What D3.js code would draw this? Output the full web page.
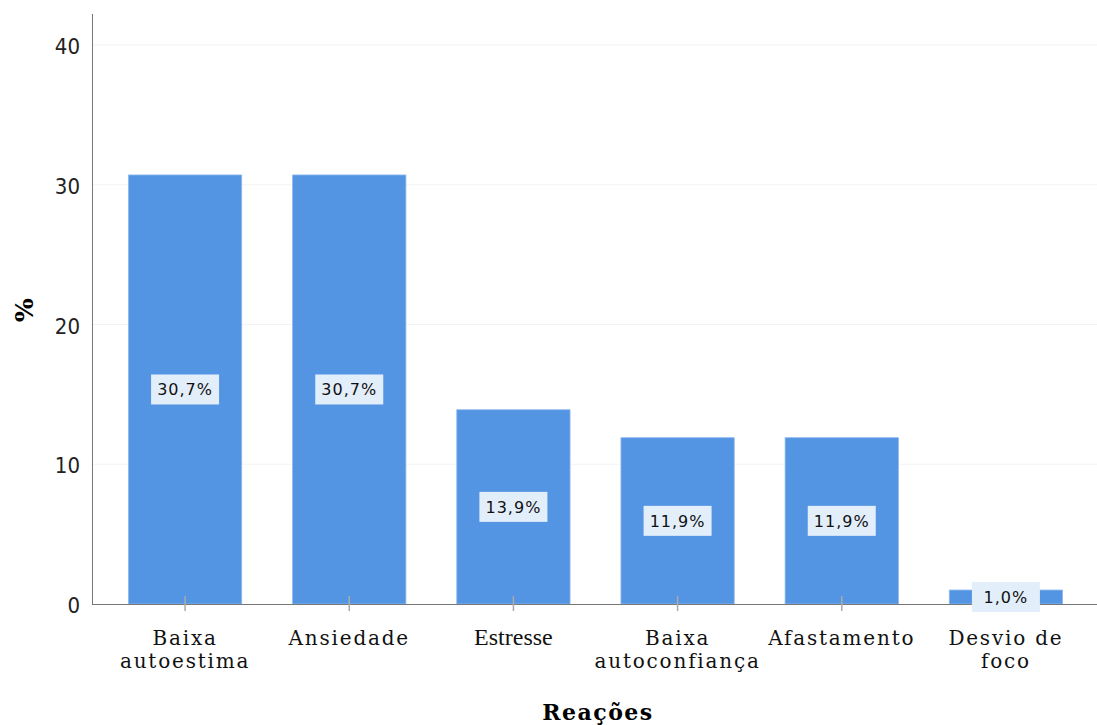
<!DOCTYPE html>
<html>
<head>
<meta charset="utf-8">
<script src="https://cdn.jsdelivr.net/npm/d3@7"></script>
<style>
  body { margin: 0; background: #fff; }
</style>
</head>
<body>
<script>
var width = 1097, height = 725;

// data
var categories = [["Baixa", "autoestima"], ["Ansiedade"], ["Estresse"], ["Baixa", "autoconfiança"], ["Afastamento"], ["Desvio de", "foco"]];
var percents = [30.7, 30.7, 13.9, 11.9, 11.9, 1.0];
var yTicks = [0, 10, 20, 30, 40];

var svg = d3.select("body")
            .append("svg")
            .attr("width", width)
            .attr("height", height);

var x = d3.scaleBand()
          .domain(d3.range(categories.length))
          .range([103, 1088])
          .paddingInner(0.31)
          .paddingOuter(0.155);

var y = d3.scaleLinear()
          .domain([0, 40])
          .range([604, 45]);

// faint gridlines
svg.append("g")
   .selectAll("line")
   .data(yTicks.slice(1))
   .enter()
   .append("line")
   .attr("x1", 93)
   .attr("x2", width)
   .attr("y1", function(d) { return y(d); })
   .attr("y2", function(d) { return y(d); })
   .attr("stroke", "#f1f3f6")
   .attr("stroke-width", 1);

// bars
svg.append("g")
   .selectAll("rect")
   .data(percents)
   .enter()
   .append("rect")
   .attr("x", function(d, i) { return x(i); })
   .attr("y", function(d) { return y(d); })
   .attr("width", x.bandwidth())
   .attr("height", function(d) { return y(0) - y(d); })
   .attr("fill", "#5394e3")
   .attr("stroke", "#8fb9ee")
   .attr("stroke-width", 0.8);

// axis lines
svg.append("line")
   .attr("x1", 92.5).attr("x2", 92.5)
   .attr("y1", 14).attr("y2", 604)
   .attr("stroke", "#777");

svg.append("line")
   .attr("x1", 92).attr("x2", width)
   .attr("y1", 604.5).attr("y2", 604.5)
   .attr("stroke", "#777");

// y tick labels
svg.append("g")
   .selectAll("text")
   .data(yTicks)
   .enter()
   .append("text")
   .attr("x", 80)
   .attr("y", function(d) { return y(d) + 9; })
   .attr("text-anchor", "end")
   .attr("font-family", "'DejaVu Sans Condensed', 'Liberation Sans', sans-serif")
   .attr("font-size", "22px")
   .attr("fill", "#222")
   .text(function(d) { return d; });

// x tick marks
svg.append("g")
   .selectAll("line")
   .data(d3.range(categories.length))
   .enter()
   .append("line")
   .attr("x1", function(i) { return x(i) + x.bandwidth() / 2; })
   .attr("x2", function(i) { return x(i) + x.bandwidth() / 2; })
   .attr("y1", 596)
   .attr("y2", 611)
   .attr("stroke", "#aaa")
   .attr("stroke-width", 1.5);

// x category labels
var xl = svg.append("g")
            .selectAll("text")
            .data(categories)
            .enter()
            .append("text")
            .attr("text-anchor", "middle")
            .attr("font-family", function(d, i) { return i == 2 ? "Liberation Serif" : "DejaVu Serif"; })
            .attr("font-size", function(d, i) { return i == 2 ? "24px" : "20px"; })
            .attr("letter-spacing", function(d, i) { return i == 2 ? "0px" : "1.8px"; })
            .attr("fill", "#111")
            .attr("transform", function(d, i) { return "translate(" + (x(i) + x.bandwidth() / 2) + ",0)"; });

xl.selectAll("tspan")
  .data(function(d) { return d; })
  .enter()
  .append("tspan")
  .attr("x", 0)
  .attr("y", function(d, j) { return 645 + j * 23; })
  .text(function(d) { return d; });

// value labels with light boxes
var vl = svg.append("g")
            .selectAll("g")
            .data(percents)
            .enter()
            .append("g")
            .attr("transform", function(d, i) {
              return "translate(" + (x(i) + x.bandwidth() / 2) + "," + ((y(0) + y(d)) / 2) + ")";
            });

vl.append("rect")
  .attr("x", -34)
  .attr("y", -15)
  .attr("width", 68)
  .attr("height", 30)
  .attr("fill", "#e3eefb");

vl.append("text")
  .attr("text-anchor", "middle")
  .attr("y", 6)
  .attr("font-family", "DejaVu Sans")
  .attr("font-size", "16px")
  .attr("letter-spacing", "1px")
  .attr("fill", "#111")
  .text(function(d) { return d.toFixed(1).replace(".", ",") + "%"; });

// axis titles
svg.append("text")
   .attr("transform", "translate(33,310) rotate(-90)")
   .attr("text-anchor", "middle")
   .attr("font-family", "DejaVu Serif")
   .attr("font-weight", "bold")
   .attr("font-size", "25px")
   .text("%");

svg.append("text")
   .attr("x", 598)
   .attr("y", 720)
   .attr("text-anchor", "middle")
   .attr("font-family", "DejaVu Serif")
   .attr("font-weight", "bold")
   .attr("font-size", "22px")
   .attr("letter-spacing", "1.5px")
   .text("Reações");
</script>
</body>
</html>
